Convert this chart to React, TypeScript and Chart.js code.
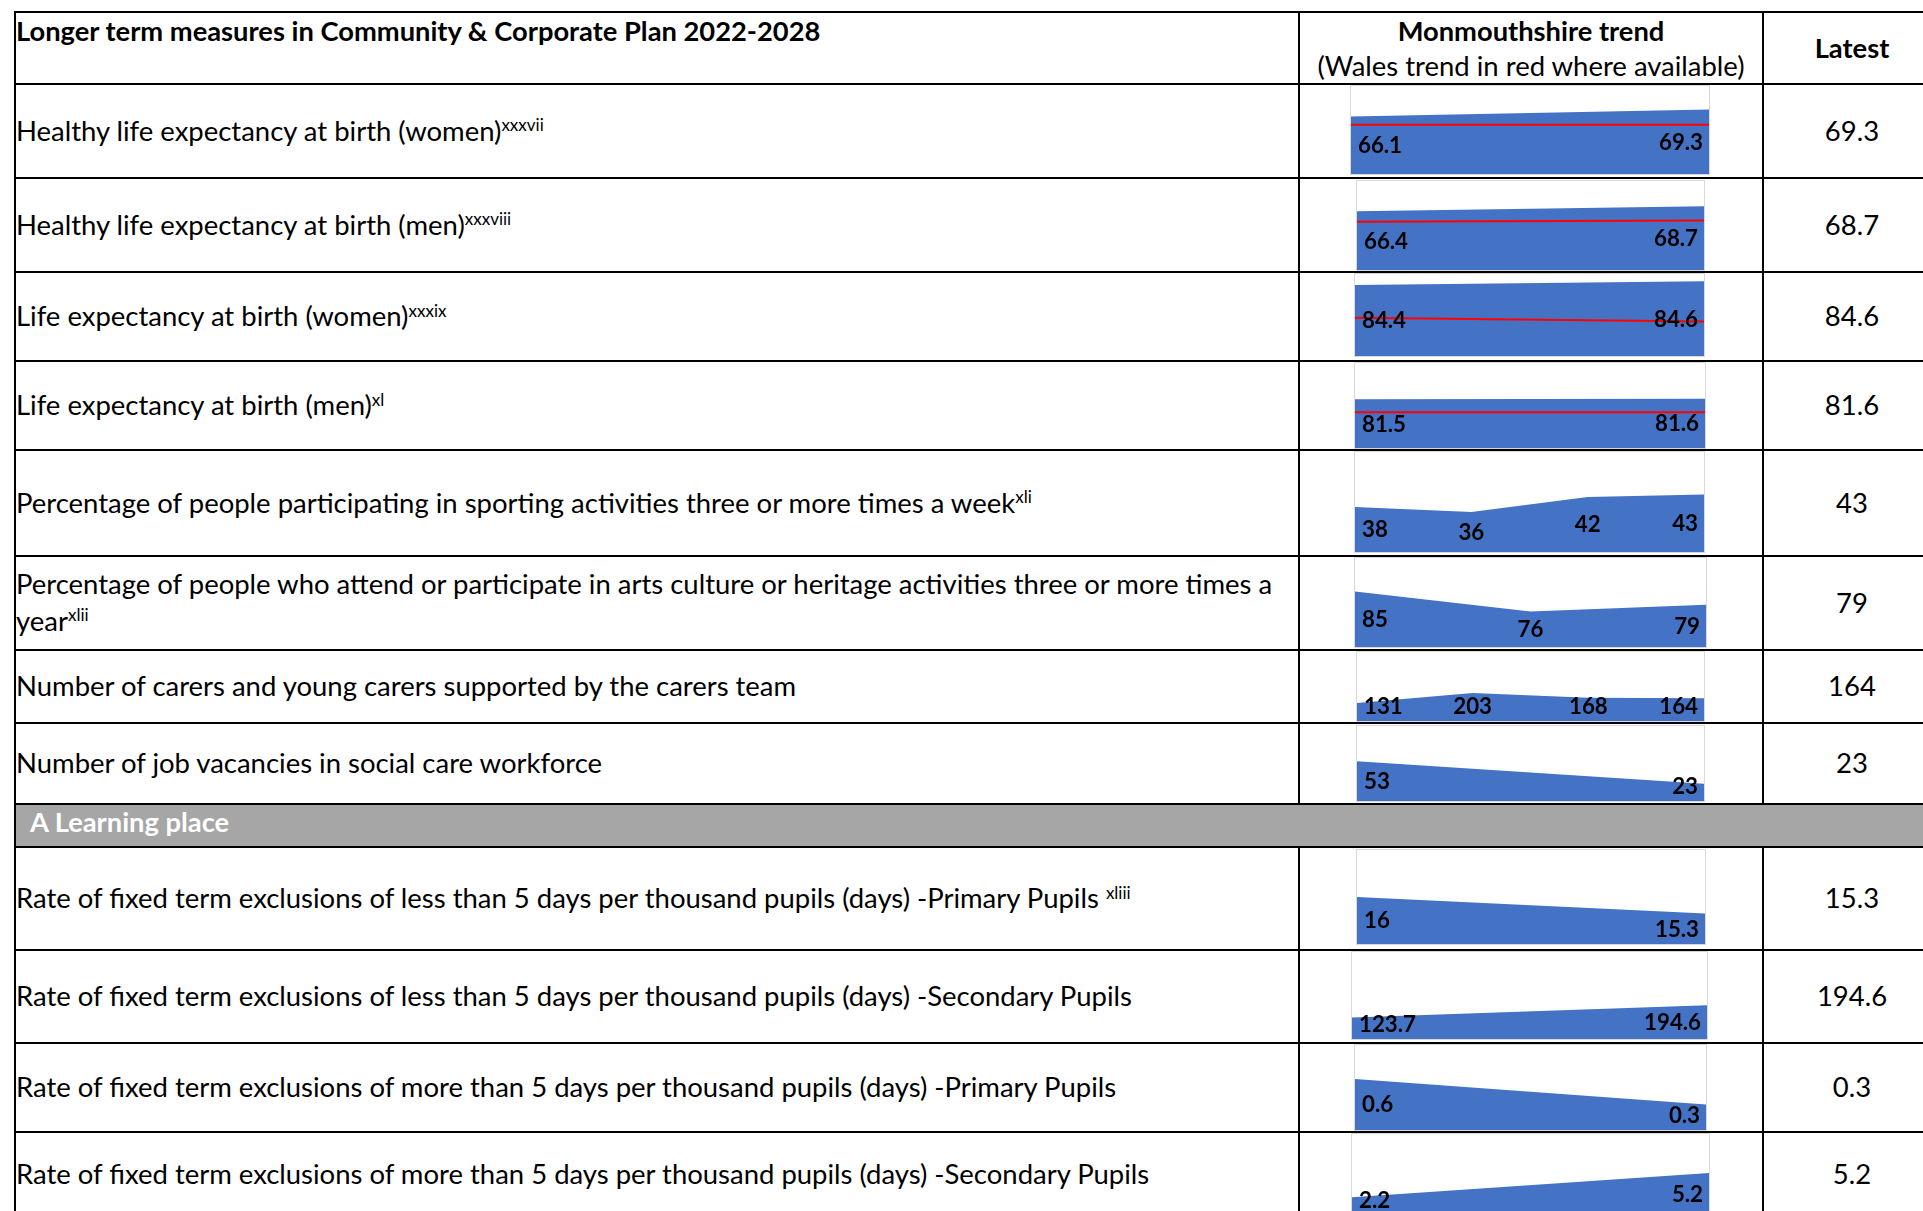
import React, { useEffect, useMemo, useRef } from 'react';
import { Chart, registerables } from 'chart.js';

Chart.register(...registerables);

// ---------------- data ----------------
const HEADER_MEASURE = 'Longer term measures in Community & Corporate Plan 2022-2028';
const HEADER_TREND = 'Monmouthshire trend';
const HEADER_TREND_NOTE = '(Wales trend in red where available)';
const HEADER_LATEST = 'Latest';
const SECTION_TITLE = 'A Learning place';

const MEASURES = [
  'Healthy life expectancy at birth (women)',
  'Healthy life expectancy at birth (men)',
  'Life expectancy at birth (women)',
  'Life expectancy at birth (men)',
  'Percentage of people participating in sporting activities three or more times a week',
  'Percentage of people who attend or participate in arts culture or heritage activities three or more times a\nyear',
  'Number of carers and young carers supported by the carers team',
  'Number of job vacancies in social care workforce',
  'Rate of fixed term exclusions of less than 5 days per thousand pupils (days) -Primary Pupils ',
  'Rate of fixed term exclusions of less than 5 days per thousand pupils (days) -Secondary Pupils',
  'Rate of fixed term exclusions of more than 5 days per thousand pupils (days) -Primary Pupils',
  'Rate of fixed term exclusions of more than 5 days per thousand pupils (days) -Secondary Pupils',
];
const FOOTNOTES = ['xxxvii', 'xxxviii', 'xxxix', 'xl', 'xli', 'xlii', '', '', 'xliii', '', '', ''];
const LATEST = ['69.3', '68.7', '84.6', '81.6', '43', '79', '164', '23', '15.3', '194.6', '0.3', '5.2'];

const PERIODS_2 = ['Period 1', 'Period 2'];
const PERIODS_3 = ['Period 1', 'Period 2', 'Period 3'];
const PERIODS_4 = ['Period 1', 'Period 2', 'Period 3', 'Period 4'];

const HLE_WOMEN = [66.1, 69.3];
const HLE_WOMEN_WALES = [62.4, 62.4];
const HLE_MEN = [66.4, 68.7];
const HLE_MEN_WALES = [61.7, 62.2];
const LE_WOMEN = [84.4, 84.6];
const LE_WOMEN_WALES = [82.6, 82.4];
const LE_MEN = [81.5, 81.6];
const LE_MEN_WALES = [78.4, 78.4];
const SPORT = [38, 36, 42, 43];
const ARTS = [85, 76, 79];
const CARERS = [131, 203, 168, 164];
const VACANCIES = [53, 23];
const EXCL_LT5_PRIMARY = [16, 15.3];
const EXCL_LT5_SECONDARY = [123.7, 194.6];
const EXCL_GT5_PRIMARY = [0.6, 0.3];
const EXCL_GT5_SECONDARY = [2.2, 5.2];

const Y_MIN = [40, 40, 80.5, 70, 20, 60, 0, 0, 14, 0, 0, 0];
const Y_MAX = [80, 80, 85, 90, 60, 100, 500, 100, 18, 500, 1, 10];

type Trend = { periods: string[]; values: number[]; wales?: number[] };
const TRENDS: Trend[] = [
  { periods: PERIODS_2, values: HLE_WOMEN, wales: HLE_WOMEN_WALES },
  { periods: PERIODS_2, values: HLE_MEN, wales: HLE_MEN_WALES },
  { periods: PERIODS_2, values: LE_WOMEN, wales: LE_WOMEN_WALES },
  { periods: PERIODS_2, values: LE_MEN, wales: LE_MEN_WALES },
  { periods: PERIODS_4, values: SPORT },
  { periods: PERIODS_3, values: ARTS },
  { periods: PERIODS_4, values: CARERS },
  { periods: PERIODS_2, values: VACANCIES },
  { periods: PERIODS_2, values: EXCL_LT5_PRIMARY },
  { periods: PERIODS_2, values: EXCL_LT5_SECONDARY },
  { periods: PERIODS_2, values: EXCL_GT5_PRIMARY },
  { periods: PERIODS_2, values: EXCL_GT5_SECONDARY },
];

// ---------------- layout ----------------
const FONT = 'Lato';
const H_LINES = [11, 83, 177, 271, 360, 449, 555, 649, 722, 803, 846, 949, 1042, 1131, 1216];
const LEFT_X = 14;
const COL1_X = 1298;
const COL2_X = 1762;
const RIGHT_X = 1940;
const LINE = 2;
const BODY_LINE_HEIGHT = 36.8;
const CHART_BOXES = [
  [1350, 85, 360, 90],
  [1356, 180, 349, 91],
  [1354, 273, 351, 84],
  [1354, 362, 352, 87],
  [1354, 451, 351, 102],
  [1354, 557, 353, 91],
  [1356, 651, 349, 71],
  [1356, 725, 349, 77],
  [1356, 849, 350, 96],
  [1351, 951, 357, 89],
  [1354, 1044, 353, 87],
  [1351, 1133, 359, 83],
];
const BLUE = '#4472C4';
const RED = '#FF0000';

function fitSize(text: string, weight: string, target: number): number {
  const ctx = document.createElement('canvas').getContext('2d');
  if (!ctx) return 28;
  ctx.font = `${weight} 100px ${FONT}`;
  const w = ctx.measureText(text).width;
  return (100 * target) / w;
}

function rowBounds(i: number): [number, number] {
  const k = i < 8 ? i + 1 : i + 2;
  return [H_LINES[k] + LINE, H_LINES[k + 1]];
}

function Sparkline({ idx, labelSize }: { idx: number; labelSize: number }) {
  const ref = useRef<HTMLCanvasElement>(null);
  useEffect(() => {
    const trend = TRENDS[idx];
    const labelPlugin = {
      id: 'areaLabels',
      afterDatasetsDraw(chart: any) {
        const meta = chart.getDatasetMeta(0);
        const { ctx, chartArea } = chart;
        ctx.save();
        ctx.font = `bold ${labelSize}px ${FONT}`;
        ctx.fillStyle = '#000000';
        ctx.textBaseline = 'alphabetic';
        meta.data.forEach((pt: any, i: number) => {
          const text = String(trend.values[i]);
          const w = ctx.measureText(text).width;
          let x = pt.x - w / 2;
          x = Math.max(chartArea.left + 7, Math.min(x, chartArea.right - 6 - w));
          let cy = (pt.y + chartArea.bottom) / 2;
          cy = Math.min(cy, chartArea.bottom - 15);
          ctx.fillText(text, x, cy + 0.358 * labelSize);
        });
        ctx.restore();
      },
    };
    const datasets: any[] = [
      {
        data: trend.values,
        fill: 'start',
        backgroundColor: BLUE,
        borderColor: 'rgba(0,0,0,0)',
        borderWidth: 0,
        pointRadius: 0,
        tension: 0,
        order: 2,
      },
    ];
    if (trend.wales) {
      datasets.push({
        data: trend.wales,
        fill: false,
        borderColor: RED,
        borderWidth: 2,
        pointRadius: 0,
        tension: 0,
        order: 1,
      });
    }
    const chart = new Chart(ref.current as HTMLCanvasElement, {
      type: 'line',
      data: { labels: trend.periods, datasets },
      options: {
        animation: false,
        responsive: true,
        maintainAspectRatio: false,
        events: [],
        layout: { padding: 0 },
        plugins: { legend: { display: false }, tooltip: { enabled: false } },
        scales: {
          x: { display: false, offset: false },
          y: { display: false, min: Y_MIN[idx], max: Y_MAX[idx] },
        },
      } as any,
      plugins: [labelPlugin],
    });
    return () => chart.destroy();
  }, [idx, labelSize]);
  return <canvas ref={ref} />;
}

function Sup({ text }: { text: string }) {
  if (!text) return null;
  return (
    <span style={{ fontSize: '0.62em', position: 'relative', top: '-0.56em', lineHeight: 0 }}>{text}</span>
  );
}

export default function App() {
  const sizes = useMemo(
    () => ({
      body: fitSize(
        'Percentage of people who attend or participate in arts culture or heritage activities three or more times a',
        '400',
        1259
      ),
      bold: fitSize(HEADER_MEASURE, '700', 806),
      label: fitSize('194.6', '700', 57),
    }),
    []
  );
  const S = sizes.body;
  const SB = sizes.bold;

  const lines: React.ReactNode[] = [];
  H_LINES.forEach((y, i) => {
    lines.push(
      <div key={'h' + i} style={{ position: 'absolute', left: LEFT_X, top: y, width: 2000, height: LINE, background: '#000' }} />
    );
  });
  const top = H_LINES[0];
  const bottom = H_LINES[H_LINES.length - 1] + LINE;
  lines.push(<div key="vl" style={{ position: 'absolute', left: LEFT_X, top, width: LINE, height: bottom - top, background: '#000' }} />);
  [COL1_X, COL2_X, RIGHT_X].forEach((x, i) => {
    lines.push(
      <div key={'va' + i} style={{ position: 'absolute', left: x, top, width: LINE, height: H_LINES[9] - top, background: '#000' }} />
    );
    lines.push(
      <div key={'vb' + i} style={{ position: 'absolute', left: x, top: H_LINES[10], width: LINE, height: bottom - H_LINES[10], background: '#000' }} />
    );
  });

  const textBase: React.CSSProperties = {
    position: 'absolute',
    fontFamily: FONT,
    color: '#000',
    whiteSpace: 'nowrap',
  };

  const atBaseline = (baseline: number, size: number) => baseline - 0.987 * size;

  return (
    <div
      style={{
        position: 'absolute',
        left: 0,
        top: 0,
        width: 1923,
        height: 1211,
        overflow: 'hidden',
        background: '#fff',
      }}
    >
      <div
        style={{
          position: 'absolute',
          left: LEFT_X + LINE,
          top: H_LINES[9] + LINE,
          width: 2000,
          height: H_LINES[10] - H_LINES[9] - LINE,
          background: '#A6A6A6',
          display: 'flex',
          alignItems: 'center',
        }}
      >
        <span
          style={{
            fontFamily: FONT,
            fontWeight: 700,
            fontSize: SB,
            color: '#fff',
            marginLeft: 14,
            lineHeight: 1,
            position: 'relative',
            top: -4,
          }}
        >
          {SECTION_TITLE}
        </span>
      </div>
      {lines}

      <div style={{ ...textBase, left: 16, top: atBaseline(42, SB), fontSize: SB, fontWeight: 700, lineHeight: `${1.2 * SB}px` }}>
        {HEADER_MEASURE}
      </div>
      <div
        style={{
          ...textBase,
          left: COL1_X + LINE,
          width: COL2_X - COL1_X - LINE,
          textAlign: 'center',
          top: atBaseline(42, SB),
          fontSize: SB,
          fontWeight: 700,
          lineHeight: `${1.2 * SB}px`,
        }}
      >
        {HEADER_TREND}
      </div>
      <div
        style={{
          ...textBase,
          left: COL1_X + LINE,
          width: COL2_X - COL1_X - LINE,
          textAlign: 'center',
          top: atBaseline(77, S),
          fontSize: S,
          lineHeight: `${1.2 * S}px`,
        }}
      >
        {HEADER_TREND_NOTE}
      </div>
      <div
        style={{
          ...textBase,
          left: COL2_X + LINE,
          width: RIGHT_X - COL2_X - LINE,
          textAlign: 'center',
          top: atBaseline(59, SB),
          fontSize: SB,
          fontWeight: 700,
          lineHeight: `${1.2 * SB}px`,
        }}
      >
        {HEADER_LATEST}
      </div>

      {MEASURES.map((m, i) => {
        const [y0, y1] = rowBounds(i);
        const parts = m.split('\n');
        return (
          <React.Fragment key={'r' + i}>
            <div
              style={{
                ...textBase,
                left: 16,
                top: y0,
                height: y1 - y0,
                width: COL1_X - 16,
                display: 'flex',
                alignItems: 'center',
                fontSize: S,
                lineHeight: `${BODY_LINE_HEIGHT}px`,
              }}
            >
              <div>
                {parts.map((p, j) => (
                  <div key={j}>
                    {p}
                    {j === parts.length - 1 ? <Sup text={FOOTNOTES[i]} /> : null}
                  </div>
                ))}
              </div>
            </div>
            <div
              style={{
                ...textBase,
                left: COL2_X + LINE,
                width: RIGHT_X - COL2_X - LINE,
                top: y0,
                height: y1 - y0,
                display: 'flex',
                alignItems: 'center',
                justifyContent: 'center',
                fontSize: S,
                lineHeight: `${1.2 * S}px`,
              }}
            >
              {LATEST[i]}
            </div>
            <div
              style={{
                position: 'absolute',
                left: CHART_BOXES[i][0],
                top: CHART_BOXES[i][1],
                width: CHART_BOXES[i][2],
                height: CHART_BOXES[i][3],
                border: '1px solid #D9D9D9',
                boxSizing: 'border-box',
                background: '#fff',
              }}
            >
              <div style={{ position: 'relative', width: '100%', height: '100%' }}>
                <Sparkline idx={i} labelSize={sizes.label} />
              </div>
            </div>
          </React.Fragment>
        );
      })}
    </div>
  );
}
